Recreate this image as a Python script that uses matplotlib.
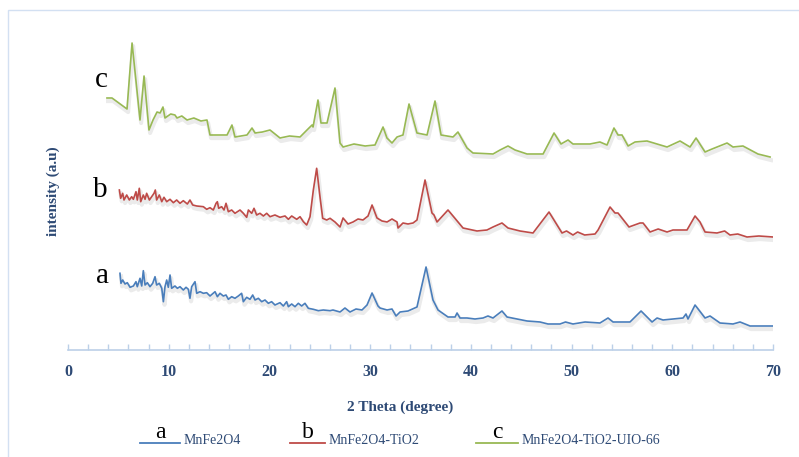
import matplotlib
matplotlib.use("Agg")
import matplotlib.pyplot as plt
import matplotlib.patheffects as pe
from matplotlib.lines import Line2D
from matplotlib.patches import Rectangle
from matplotlib.ticker import MultipleLocator

# ---- data (2theta in degrees, intensity in arbitrary units) ----
theta_a = [5.16, 5.26, 5.43, 5.66, 5.89, 6.16, 6.49, 6.75, 6.88, 7.15, 7.32, 7.48, 7.65, 7.88,
           8.14, 8.41, 8.64, 8.80, 9.07, 9.31, 9.47, 9.63, 9.80, 9.96, 10.13, 10.29, 10.62,
           10.86, 11.12, 11.45, 11.72, 11.95, 12.11, 12.28, 12.61, 12.78, 13.11, 13.44, 13.77,
           14.10, 14.60, 14.83, 15.09, 15.42, 15.69, 15.92, 16.25, 16.58, 16.91, 17.24, 17.41,
           17.74, 18.07, 18.34, 18.57, 18.90, 19.23, 19.56, 19.89, 20.22, 20.55, 21.05, 21.38,
           21.71, 21.88, 22.21, 22.54, 22.87, 23.20, 23.53, 23.86, 24.36, 24.86, 25.35, 26.02,
           26.31, 27.01, 27.50, 28.00, 28.60, 29.19, 29.69, 30.19, 30.78, 30.98, 31.68, 32.17,
           32.57, 32.97, 33.76, 34.65, 35.55, 36.24, 36.74, 37.73, 38.43, 38.63, 38.92, 39.62,
           40.41, 41.21, 41.70, 42.20, 43.09, 43.59, 44.58, 45.58, 46.87, 47.66, 48.85, 49.4,
           50.14, 51.34, 52.82, 53.62, 54.12, 55.80, 56.90, 57.99, 58.49, 59.08, 61.07, 61.36,
           61.56, 62.26, 63.25, 63.75, 64.74, 66.03, 66.73, 67.72, 70.00]
int_a = [76.7, 66.7, 70, 66, 67.3, 62.7, 64, 68.3, 63.3, 71.7, 64, 79.3, 65, 67.3,
         63.3, 66.7, 73.3, 65, 66.7, 61.7, 48.3, 63.3, 70, 62.7, 75, 61.7, 64,
         61.7, 63.3, 60, 62.7, 60.7, 51.7, 63.3, 68.3, 56.7, 58.3, 56.7, 57.3,
         54, 58.3, 53.3, 56.7, 54, 55, 50.7, 53.3, 51.7, 54, 56.7, 48.3,
         52.7, 50.7, 55, 50, 51.7, 48.3, 50, 46.7, 48.3, 45, 47.3, 44,
         48.3, 43.3, 46, 43.3, 46.7, 44, 46.7, 41.7, 40.7, 39.3, 40, 39.3,
         40, 38, 42, 38, 41, 40, 45, 57, 44, 42, 40, 41,
         34, 38, 39, 43, 83, 50, 40, 33, 33, 37, 32, 32,
         31, 32, 34, 32, 39, 33, 31, 29, 28, 26, 26, 28,
         26, 28, 27, 32, 28, 28, 39, 28, 32, 30, 32, 36,
         31, 45, 32, 34, 27, 26, 28, 24, 24]

theta_b = [5.10, 5.23, 5.43, 5.56, 5.83, 6.09, 6.32, 6.49, 6.75, 6.88, 7.08, 7.22, 7.48, 7.65,
           7.81, 8.08, 8.31, 8.54, 8.67, 8.80, 9.07, 9.31, 9.53, 9.80, 10.13, 10.46, 10.79,
           11.12, 11.45, 11.85, 12.11, 12.38, 12.78, 13.44, 13.77, 14.10, 14.43, 14.70, 14.83,
           14.96, 15.26, 15.49, 15.69, 15.92, 16.25, 16.58, 17.08, 17.41, 17.74, 17.91, 18.24,
           18.47, 18.73, 19.06, 19.40, 19.73, 20.06, 20.55, 21.05, 21.55, 21.88, 22.21, 22.71,
           23.04, 23.37, 23.70, 24.03, 24.36, 24.69, 25.02, 25.29, 25.69, 26.02, 26.51, 27.01,
           27.31, 27.80, 28.30, 28.80, 29.29, 29.79, 30.19, 30.68, 31.18, 31.68, 32.17, 32.67,
           32.77, 33.26, 33.76, 34.26, 34.65, 35.45, 36.14, 36.34, 36.64, 37.73, 39.22, 40.61,
           41.60, 42.20, 43.09, 43.69, 44.88, 46.17, 47.76, 49.05, 49.5, 50.14, 50.6, 51.3,
           52.33, 52.63, 53.82, 54.31, 54.61, 55.70, 56.80, 57.10, 57.79, 58.6, 59.48, 60.07,
           61.46, 62.26, 62.75, 63.25, 64.44, 65.2, 65.73, 66.5, 67.42, 68.6, 70.00]
int_b = [160, 151.7, 156.7, 150, 155, 150, 153.3, 150.7, 158.3, 150, 161.7, 148.3, 155, 150.7,
         156.7, 150, 153.3, 156.7, 160, 150, 155, 148.3, 152.7, 148.3, 150.7, 147.3, 150,
         146.7, 149.3, 146, 150, 145, 144, 143.3, 140.7, 142.3, 140, 146.7, 148.3,
         141.7, 143.3, 140, 146.7, 138.3, 140, 136.7, 140, 136.7, 132.7, 140, 136.7,
         141.7, 135, 136.7, 134, 136.7, 133.3, 135, 132.7, 134, 130.7, 134, 130.7,
         133.3, 128.3, 125, 133.3, 160, 181.7, 153.3, 131.7, 130, 131.7, 128, 123,
         132, 126, 128, 131, 130, 134, 145, 132, 129, 128, 131, 128,
         122, 127, 126, 127, 130, 170, 137, 135, 128, 140, 122, 119,
         120, 123, 127, 122, 119, 117, 138, 117, 119, 115, 118, 115,
         116, 120, 143, 137, 137, 123, 127, 127, 118, 121, 118, 120,
         120, 134, 128, 118, 117, 119, 115, 116, 113, 114, 113]

theta_c = [3.87, 4.37, 5.86, 6.36, 7.15, 7.55, 8.04, 8.44, 8.84, 9.14, 9.43, 9.63, 10.2, 10.62,
           10.82, 11.3, 11.82, 12.5, 13.2, 13.80, 14.10, 15.79, 16.28, 16.58, 17.77, 18.27,
           18.57, 19.3, 20.06, 21.05, 22.0, 23.04, 23.73, 24.23, 24.33, 24.82, 25.12, 25.72,
           26.51, 27.01, 27.31, 28.4, 29.5, 30.48, 31.28, 31.67, 32.17, 32.67, 33.26, 33.86,
           34.65, 35.65, 36.44, 37.04, 38.23, 38.72, 39.62, 40.21, 42.20, 42.90, 43.69, 44.39,
           45.58, 47.17, 48.26, 48.95, 49.65, 50.14, 51.83, 52.82, 53.52, 54.21, 54.61, 55.01,
           55.61, 56.30, 57.49, 59.48, 60.77, 61.76, 62.36, 63.25, 63.95, 65.44, 66.03, 67.02,
           68.51, 69.71]
int_c = [252, 252, 241, 307, 230, 274, 220, 230, 238, 237, 243, 232, 236, 235,
         232, 234, 230, 232, 229, 230, 215, 215, 225, 213, 215, 222,
         217, 218, 220, 212, 214, 213, 220, 225, 223, 250, 227, 227,
         262, 207, 203, 206, 204, 205, 223, 212, 207, 213, 215, 246,
         217, 215, 249, 215, 213, 218, 202, 197, 196, 200, 204, 200,
         196, 196, 217, 206, 210, 206, 206, 208, 205, 222, 215, 215,
         204, 208, 209, 203, 209, 203, 212, 198, 201, 207, 203, 204,
         196, 193]

series_letters = ["a", "b", "c"]
series_names = ["MnFe2O4", "MnFe2O4-TiO2", "MnFe2O4-TiO2-UIO-66"]
x_ticks = [0, 10, 20, 30, 40, 50, 60, 70]

colors = ["#4a7ebb", "#be4b48", "#98b954"]
label_color = "#2e4a75"
axis_color = "#bcd0e8"
serif = ["Liberation Serif", "DejaVu Serif"]

W, H = 799, 457
fig = plt.figure(figsize=(W / 100, H / 100), dpi=100)
fig.patch.set_facecolor("white")

# frame around the chart area
fig.add_artist(Rectangle((8 / W, -0.2), 1.2, 1.2 - 10 / H, transform=fig.transFigure,
                         fill=False, edgecolor="#d3e0f2", linewidth=1.0))

ax = fig.add_axes([68 / W, 1 - 350 / H, (773 - 68) / W, (350 - 10) / H])
ax.set_xlim(0, 70)
ax.set_ylim(0, 340)
ax.patch.set_alpha(0)

shadow = [pe.SimpleLineShadow(offset=(0.8, -2.2), alpha=0.08, shadow_color="black", linewidth=3),
          pe.Normal()]
data = [(theta_a, int_a), (theta_b, int_b), (theta_c, int_c)]
for (tx, ty), col in zip(data, colors):
    ax.plot(tx, ty, color=col, linewidth=1.2, path_effects=shadow, solid_joinstyle="round")

for sp in ["left", "right", "top"]:
    ax.spines[sp].set_visible(False)
ax.spines["bottom"].set_color(axis_color)
ax.spines["bottom"].set_linewidth(1.2)
ax.set_yticks([])
ax.set_xticks(x_ticks)
ax.xaxis.set_minor_locator(MultipleLocator(2))
ax.tick_params(axis="x", which="both", direction="in", length=4, color=axis_color, width=1.0,
               pad=10)
for lab in ax.get_xticklabels():
    lab.set_fontfamily(serif)
    lab.set_fontweight("bold")
    lab.set_fontsize(11.5)
    lab.set_color(label_color)

# series letters on the plot
ax.text(3.3, 350 - 80, "c", fontsize=21, family=serif, color="black", ha="center", va="center")
ax.text(3.2, 350 - 190, "b", fontsize=21, family=serif, color="black", ha="center", va="center")
ax.text(3.4, 350 - 276, "a", fontsize=21, family=serif, color="black", ha="center", va="center")

# axis titles
fig.text(400 / W, 1 - 407 / H, "2 Theta (degree)", fontsize=11, family=serif, weight="bold",
         color=label_color, ha="center", va="center")
fig.text(53 / W, 1 - 191 / H, "intensity (a.u)", fontsize=11, family=serif, weight="bold",
         color=label_color, ha="center", va="center", rotation=90)

# custom legend
leg_line_x = [(140, 180), (290, 325), (476, 518)]
leg_y = 443
for (x0, x1), col, letter, name in zip(leg_line_x, colors, series_letters, series_names):
    fig.add_artist(Line2D([x0 / W, x1 / W], [1 - leg_y / H, 1 - leg_y / H],
                          transform=fig.transFigure, color=col, linewidth=1.3))
    fig.text((x0 + x1) / 2 / W, 1 - 432 / H, letter, fontsize=17, family=serif, color="black",
             ha="center", va="center")
    fig.text((x1 + 4) / W, 1 - 441 / H, name, fontsize=10, family=serif, color=label_color,
             ha="left", va="center")

fig.savefig("out.png", dpi=100)
